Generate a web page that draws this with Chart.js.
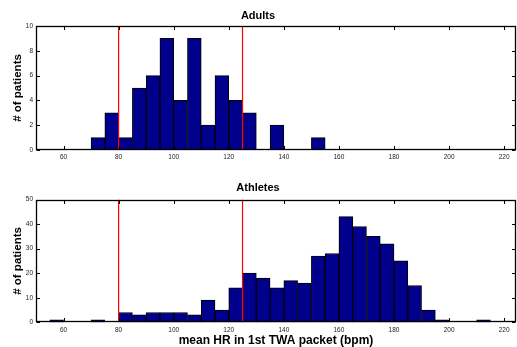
<!DOCTYPE html>
<html>
<head>
<meta charset="utf-8">
<script src="https://cdn.jsdelivr.net/npm/chart.js@4.4.1/dist/chart.umd.min.js"></script>
<style>
  body { margin: 0; background: #fff; }
  #wrap { position: relative; width: 517px; height: 347px; }
  canvas { position: absolute; left: 0; }
</style>
</head>
<body>
<div id="wrap">
  <canvas id="adultsChart" width="517" height="170" style="top:0px"></canvas>
  <canvas id="athletesChart" width="517" height="177" style="top:170px"></canvas>
</div>
<script>
// histogram bins, 5 bpm wide
const binCenters = [57.5, 62.5, 67.5, 72.5, 77.5, 82.5, 87.5, 92.5, 97.5, 102.5, 107.5,
    112.5, 117.5, 122.5, 127.5, 132.5, 137.5, 142.5, 147.5, 152.5, 157.5, 162.5, 167.5,
    172.5, 177.5, 182.5, 187.5, 192.5, 197.5, 202.5, 207.5, 212.5, 217.5];
const adultsCounts = [0, 0, 0, 1, 3, 1, 5, 6, 9, 4, 9, 2, 6, 4, 3, 0, 2, 0, 0, 1,
    0, 0, 0, 0, 0, 0, 0, 0, 0, 0, 0, 0, 0];
const athletesCounts = [1, 0, 0, 1, 0, 4, 3, 4, 4, 4, 3, 9, 5, 14, 20, 18, 14, 17, 16, 27,
    28, 43, 39, 35, 32, 25, 15, 5, 1, 0, 0, 1, 0];
const limitLines = [80, 125];
const xTickValues = [60, 80, 100, 120, 140, 160, 180, 200, 220];
const adultsYTicks = [0, 2, 4, 6, 8, 10];
const athletesYTicks = [0, 10, 20, 30, 40, 50];

Chart.defaults.font.family = '"Liberation Sans", Arial, sans-serif';

// box round the plot with small inward ticks on all four sides
const axesBox = {
    id: 'axesBox',
    afterDatasetsDraw(chart) {
        const { ctx, chartArea: a, scales: { x, y } } = chart;
        const L = Math.round(a.left) + 0.5, R = Math.round(a.right) - 0.5;
        const T = Math.round(a.top) + 0.5, B = Math.round(a.bottom) - 0.5;
        ctx.save();
        ctx.strokeStyle = '#000';
        ctx.lineWidth = 1;
        ctx.beginPath();
        x.ticks.forEach(t => {
            const px = Math.round(x.getPixelForValue(t.value)) + 0.5;
            ctx.moveTo(px, B); ctx.lineTo(px, B - 3.5);
            ctx.moveTo(px, T); ctx.lineTo(px, T + 3.5);
        });
        y.ticks.forEach(t => {
            const py = Math.round(y.getPixelForValue(t.value)) + 0.5;
            ctx.moveTo(L, py); ctx.lineTo(L + 3.5, py);
            ctx.moveTo(R, py); ctx.lineTo(R - 3.5, py);
        });
        ctx.stroke();
        ctx.lineWidth = 1.3;
        ctx.strokeRect(L, T, R - L, B - T);
        ctx.restore();
    }
};

function makeChart(id, title, counts, yMax, yTicks, titlePad, xAxisHeight, xTickPad, xTitle) {
    const limitSets = limitLines.map(v => ({
        type: 'line',
        data: [{ x: v, y: 0 }, { x: v, y: yMax }],
        borderColor: '#ff0000',
        borderWidth: 1.2,
        pointRadius: 0,
        order: 0
    }));
    return new Chart(document.getElementById(id), {
        type: 'bar',
        data: {
            datasets: [{
                data: binCenters.map((c, i) => ({ x: c, y: counts[i] })),
                backgroundColor: '#00008c',
                borderColor: '#000',
                borderWidth: 1,
                borderSkipped: false,
                barPercentage: 1,
                categoryPercentage: 1,
                order: 1
            }, ...limitSets]
        },
        options: {
            responsive: false,
            animation: false,
            layout: { padding: { top: 0, left: 0, right: 1, bottom: 0 } },
            plugins: {
                legend: { display: false },
                tooltip: { enabled: false },
                title: {
                    display: true,
                    text: title,
                    color: '#000',
                    font: { size: 11, weight: 'bold' },
                    padding: titlePad
                }
            },
            scales: {
                x: {
                    type: 'linear',
                    min: 50,
                    max: 224.3,
                    offset: false,
                    grid: { display: false, drawTicks: false, offset: false },
                    border: { display: false },
                    ticks: { font: { size: 6.5 }, color: '#222', padding: xTickPad, maxRotation: 0, autoSkip: false },
                    afterBuildTicks: s => { s.ticks = xTickValues.map(v => ({ value: v })); },
                    afterFit: s => { s.height = xAxisHeight; },
                    title: {
                        display: !!xTitle,
                        text: xTitle || '',
                        color: '#000',
                        font: { size: 12, weight: 'bold', lineHeight: 1 },
                        padding: { top: 0, bottom: 0 }
                    }
                },
                y: {
                    min: 0,
                    max: yMax,
                    grid: { display: false, drawTicks: false },
                    border: { display: false },
                    ticks: { font: { size: 6.5 }, color: '#222', padding: 3 },
                    afterBuildTicks: s => { s.ticks = yTicks.map(v => ({ value: v })); },
                    afterFit: s => { s.width = 36; },
                    title: {
                        display: true,
                        text: '# of patients',
                        color: '#000',
                        font: { size: 11.5, weight: 'bold' },
                        padding: { top: 11.4, bottom: 0 }
                    }
                }
            }
        },
        plugins: [axesBox]
    });
}

makeChart('adultsChart', 'Adults', adultsCounts, 10, adultsYTicks,
    { top: 9.5, bottom: 3.3 }, 20, 3, null);
makeChart('athletesChart', 'Athletes', athletesCounts, 50, athletesYTicks,
    { top: 11.4, bottom: 4.9 }, 24.7, 4.5, 'mean HR in 1st TWA packet (bpm)');
</script>
</body>
</html>
